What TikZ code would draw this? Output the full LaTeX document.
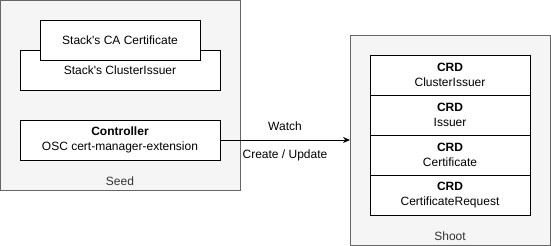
\documentclass[tikz,border=0pt]{standalone}
\usepackage{fontspec}
\setmainfont{Liberation Sans}
\usetikzlibrary{positioning,arrows.meta}
\definecolor{boxgray}{HTML}{F5F5F5}
\definecolor{linegray}{HTML}{666666}
\definecolor{labelgray}{HTML}{333333}

\begin{document}
\begin{tikzpicture}[x=1pt,y=-1pt,
    font=\fontsize{12}{14.4}\selectfont,
    cluster/.style={draw=linegray,fill=boxgray,line width=0.8pt},
    clusterlabel/.style={text=labelgray,inner sep=0pt},
    item/.style={draw=black,fill=white,line width=0.8pt,align=center,
      minimum width=200pt,minimum height=40pt,inner sep=0pt,outer sep=0pt},
    crd/.style={item,minimum width=160pt}]
  \useasboundingbox (0,0) rectangle (551,246);

  % seed side
  \draw[cluster] (0.5,0.5) rectangle (240,190);
  \node[item] (issuer) at (120,70) {Stack\textquotesingle s ClusterIssuer};
  \node[item,minimum width=160pt] (caCert) at (120,40) {Stack\textquotesingle s CA Certificate};
  \node[item] (controller) at (120,140) {\textbf{Controller}\\OSC cert-manager-extension};
  \node[clusterlabel] (seedLabel) at (120,181) {Seed};

  % shoot side
  \draw[cluster] (350,35) rectangle (550,245);
  \node[crd] (crdClusterIssuer) at (450,75) {\textbf{CRD}\\ClusterIssuer};
  \node[crd,below=0pt of crdClusterIssuer] (crdIssuer) {\textbf{CRD}\\Issuer};
  \node[crd,below=0pt of crdIssuer] (crdCertificate) {\textbf{CRD}\\Certificate};
  \node[crd,below=0pt of crdCertificate] (crdRequest) {\textbf{CRD}\\CertificateRequest};
  \node[clusterlabel] (shootLabel) at (450,236) {Shoot};

  % controller talks to the shoot
  \coordinate (shootIn) at (350,140);
  \draw[-{Stealth[length=7pt,width=6pt]},line width=0.8pt] (controller.east) -- (shootIn)
    node[midway,above=6pt] (watchLabel) {Watch}
    node[midway,below=6pt] (updateLabel) {Create / Update};
\end{tikzpicture}
\end{document}
